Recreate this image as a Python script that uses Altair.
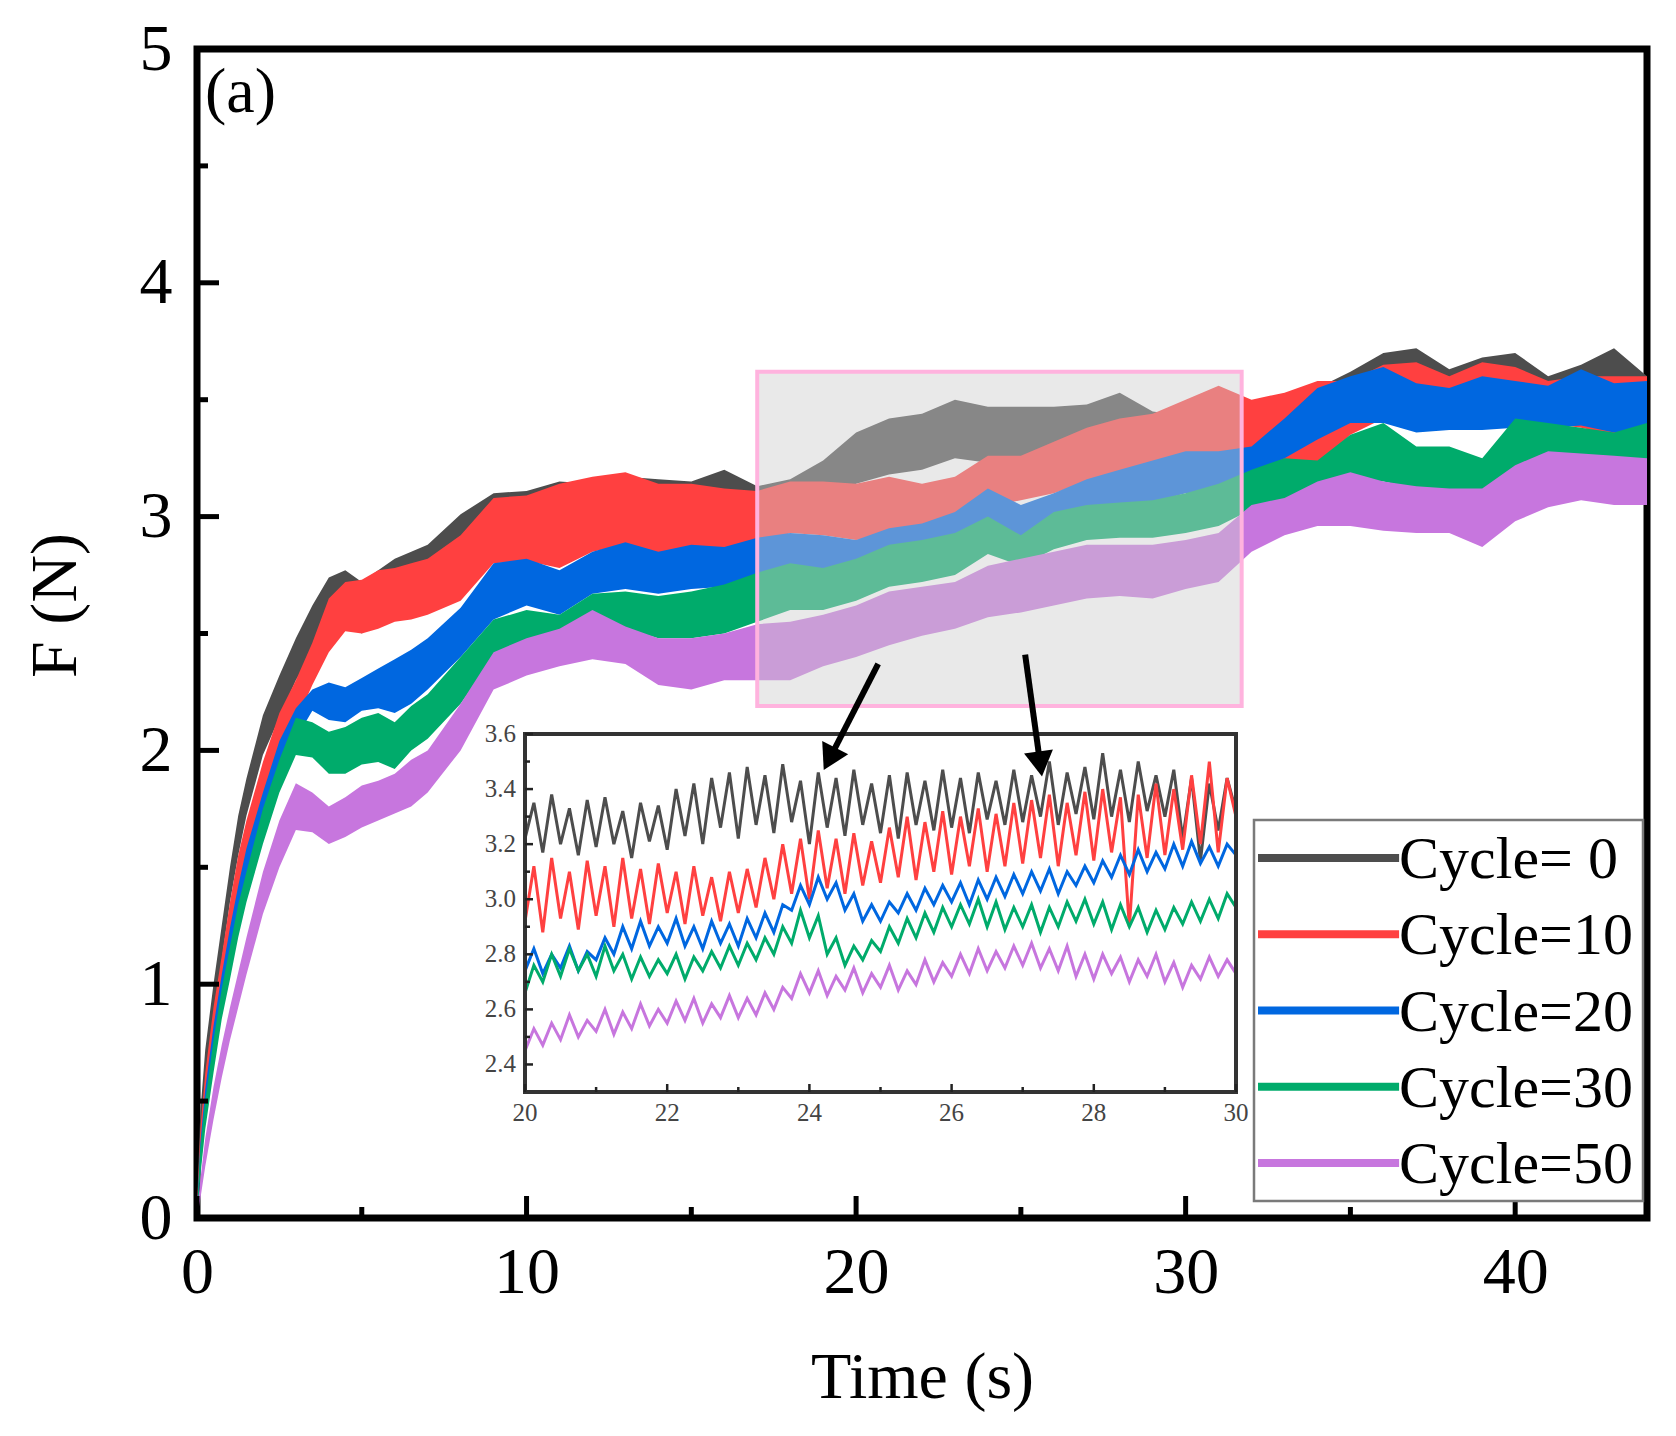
import altair as alt
import pandas as pd

FONT = "Liberation Serif"

SERIES = ["Cycle= 0", "Cycle=10", "Cycle=20", "Cycle=30", "Cycle=50"]
COLORS = ["#4d4d4d", "#ff4040", "#0067e0", "#00ab6b", "#c776de"]

# ---------------- main plot: band (lower / upper envelope) of each noisy record
T_MAIN = [0, 0.1, 0.25, 0.5, 0.75, 1, 1.25, 1.5, 2, 2.5, 3, 3.5, 4, 4.5, 5, 5.5, 6, 6.5,
          7, 8, 9, 10, 11, 12, 13, 14, 15, 16, 17, 18, 19, 20, 21, 22, 23, 24, 25, 26,
          27, 28, 29, 30, 31, 32, 33, 34, 35, 36, 37, 38, 39, 40, 41, 42, 43, 44]

BLACK_LO = [0, 0.3, 0.55, 0.85, 1.1, 1.35, 1.55, 1.72, 1.98, 2.14, 2.3, 2.42, 2.52, 2.55, 2.5, 2.55, 2.6, 2.62,
            2.66, 2.78, 2.88, 2.9, 2.93, 2.92, 2.95, 2.94, 2.93, 2.97, 2.92, 2.95, 3.02, 3.14, 3.18, 3.2, 3.25, 3.23, 3.24, 3.24,
            3.25, 3.28, 3.22, 3.2, 3.2, 3.24, 3.28, 3.33, 3.4, 3.48, 3.5, 3.42, 3.46, 3.48, 3.38, 3.43, 3.5, 3.38]
BLACK_HI = [0.05, 0.45, 0.72, 1.0, 1.25, 1.5, 1.72, 1.88, 2.15, 2.32, 2.48, 2.62, 2.74, 2.77, 2.72, 2.77, 2.82, 2.85,
            2.88, 3.01, 3.1, 3.11, 3.15, 3.14, 3.17, 3.16, 3.15, 3.2, 3.13, 3.16, 3.24, 3.36, 3.42, 3.44, 3.5, 3.47, 3.47, 3.47,
            3.48, 3.53, 3.45, 3.43, 3.44, 3.45, 3.5, 3.55, 3.62, 3.7, 3.72, 3.63, 3.68, 3.7, 3.6, 3.65, 3.72, 3.6]

RED_LO = [0, 0.25, 0.48, 0.75, 1.0, 1.2, 1.38, 1.52, 1.78, 1.98, 2.12, 2.28, 2.42, 2.51, 2.5, 2.52, 2.55, 2.56,
          2.58, 2.64, 2.8, 2.81, 2.78, 2.85, 2.88, 2.84, 2.86, 2.87, 2.87, 2.93, 2.92, 2.9, 2.92, 2.9, 2.95, 3.04, 3.07, 3.1,
          3.15, 3.18, 3.2, 3.22, 3.24, 3.25, 3.22, 3.22, 3.35, 3.42, 3.38, 3.38, 3.4, 3.38, 3.4, 3.38, 3.35, 3.38]
RED_HI = [0.03, 0.38, 0.62, 0.9, 1.12, 1.35, 1.55, 1.7, 1.95, 2.16, 2.3, 2.46, 2.65, 2.72, 2.73, 2.77, 2.78, 2.8,
          2.82, 2.92, 3.08, 3.09, 3.14, 3.17, 3.19, 3.14, 3.14, 3.12, 3.11, 3.15, 3.15, 3.14, 3.17, 3.14, 3.17, 3.26, 3.26, 3.32,
          3.38, 3.42, 3.44, 3.5, 3.56, 3.5, 3.53, 3.58, 3.58, 3.65, 3.66, 3.6, 3.66, 3.64, 3.58, 3.6, 3.6, 3.6]

BLUE_LO = [0, 0.2, 0.42, 0.68, 0.9, 1.1, 1.28, 1.42, 1.68, 1.9, 2.05, 2.17, 2.13, 2.12, 2.17, 2.18, 2.16, 2.2,
           2.26, 2.4, 2.56, 2.62, 2.58, 2.67, 2.69, 2.67, 2.69, 2.7, 2.73, 2.75, 2.77, 2.78, 2.8, 2.83, 2.88, 2.96, 2.9, 2.97,
           3.0, 3.03, 3.06, 3.1, 3.1, 3.18, 3.25, 3.33, 3.4, 3.4, 3.36, 3.37, 3.37, 3.38, 3.38, 3.39, 3.36, 3.38]
BLUE_HI = [0.02, 0.32, 0.55, 0.82, 1.04, 1.24, 1.42, 1.58, 1.82, 2.04, 2.18, 2.26, 2.29, 2.27, 2.31, 2.35, 2.39, 2.43,
           2.48, 2.61, 2.8, 2.82, 2.77, 2.85, 2.89, 2.85, 2.88, 2.87, 2.91, 2.93, 2.92, 2.9, 2.95, 2.97, 3.02, 3.12, 3.05, 3.1,
           3.16, 3.2, 3.24, 3.28, 3.28, 3.3, 3.42, 3.55, 3.6, 3.64, 3.57, 3.55, 3.6, 3.58, 3.56, 3.63, 3.57, 3.58]

GREEN_LO = [0, 0.18, 0.38, 0.62, 0.85, 1.02, 1.2, 1.35, 1.6, 1.82, 1.98, 1.97, 1.9, 1.9, 1.94, 1.95, 1.92, 2.0,
            2.05, 2.2, 2.4, 2.44, 2.47, 2.53, 2.52, 2.48, 2.48, 2.5, 2.55, 2.6, 2.6, 2.64, 2.7, 2.72, 2.75, 2.84, 2.79, 2.86,
            2.9, 2.91, 2.91, 2.93, 2.96, 3.03, 3.07, 3.1, 3.15, 3.15, 3.12, 3.1, 3.1, 3.2, 3.25, 3.25, 3.22, 3.21]
GREEN_HI = [0.02, 0.3, 0.5, 0.76, 0.98, 1.16, 1.34, 1.48, 1.75, 1.96, 2.14, 2.12, 2.08, 2.1, 2.14, 2.16, 2.12, 2.19,
            2.24, 2.4, 2.56, 2.6, 2.58, 2.67, 2.68, 2.66, 2.68, 2.71, 2.76, 2.8, 2.78, 2.82, 2.88, 2.9, 2.93, 3.0, 2.92, 3.02,
            3.05, 3.06, 3.07, 3.1, 3.14, 3.2, 3.25, 3.24, 3.35, 3.4, 3.3, 3.3, 3.25, 3.42, 3.4, 3.38, 3.36, 3.4]

PURPLE_LO = [0, 0.08, 0.22, 0.42, 0.6, 0.76, 0.9, 1.04, 1.3, 1.5, 1.66, 1.65, 1.6, 1.63, 1.67, 1.7, 1.73, 1.76,
             1.82, 2.0, 2.26, 2.32, 2.36, 2.39, 2.37, 2.28, 2.26, 2.3, 2.3, 2.3, 2.36, 2.4, 2.45, 2.49, 2.52, 2.57, 2.59, 2.62,
             2.65, 2.66, 2.65, 2.69, 2.72, 2.85, 2.92, 2.96, 2.96, 2.94, 2.93, 2.93, 2.87, 2.98, 3.04, 3.07, 3.05, 3.05]
PURPLE_HI = [0.02, 0.16, 0.34, 0.56, 0.74, 0.9, 1.05, 1.2, 1.48, 1.7, 1.86, 1.82, 1.76, 1.8, 1.85, 1.87, 1.9, 1.96,
             2.0, 2.2, 2.42, 2.48, 2.52, 2.6, 2.53, 2.48, 2.48, 2.5, 2.54, 2.55, 2.58, 2.62, 2.68, 2.7, 2.72, 2.79, 2.82, 2.85,
             2.88, 2.88, 2.88, 2.9, 2.93, 3.05, 3.08, 3.15, 3.19, 3.15, 3.13, 3.12, 3.12, 3.22, 3.28, 3.27, 3.26, 3.25]

# ---------------- inset (20 s - 30 s), sampled every 0.125 s
INSET_T = [round(20 + 0.125 * i, 3) for i in range(81)]
INSET_BLACK = [3.22, 3.35, 3.17, 3.38, 3.2, 3.33, 3.16, 3.36,
               3.19, 3.37, 3.2, 3.32, 3.15, 3.35, 3.21, 3.34,
               3.18, 3.40, 3.23, 3.42, 3.2, 3.44, 3.26, 3.46,
               3.22, 3.48, 3.27, 3.45, 3.24, 3.49, 3.28, 3.43,
               3.2, 3.46, 3.26, 3.44, 3.23, 3.47, 3.27, 3.42,
               3.24, 3.45, 3.22, 3.46, 3.27, 3.43, 3.25, 3.47,
               3.26, 3.44, 3.24, 3.46, 3.29, 3.43, 3.27, 3.47,
               3.28, 3.45, 3.3, 3.5, 3.27, 3.46, 3.31, 3.48,
               3.29, 3.53, 3.3, 3.47, 3.28, 3.5, 3.32, 3.45,
               3.3, 3.47, 3.22, 3.44, 3.14, 3.42, 3.25, 3.44,
               3.32]
INSET_RED = [2.92, 3.12, 2.88, 3.15, 2.93, 3.1, 2.89, 3.14,
             2.94, 3.12, 2.9, 3.15, 2.93, 3.11, 2.91, 3.13,
             2.95, 3.1, 2.91, 3.12, 2.94, 3.08, 2.92, 3.1,
             2.95, 3.11, 2.97, 3.15, 3.0, 3.2, 3.02, 3.22,
             3.0, 3.25, 3.04, 3.22, 3.02, 3.24, 3.05, 3.21,
             3.06, 3.26, 3.08, 3.3, 3.07, 3.28, 3.1, 3.32,
             3.09, 3.3, 3.12, 3.33, 3.1, 3.31, 3.12, 3.35,
             3.13, 3.36, 3.15, 3.38, 3.12, 3.35, 3.16, 3.39,
             3.14, 3.4, 3.17, 3.37, 2.9, 3.38, 3.15, 3.42,
             3.16, 3.4, 3.18, 3.45, 3.2, 3.5, 3.17, 3.44,
             3.3]
INSET_BLUE = [2.74, 2.82, 2.73, 2.8, 2.75, 2.83, 2.74, 2.81,
              2.78, 2.86, 2.8, 2.9, 2.82, 2.92, 2.83, 2.9,
              2.84, 2.93, 2.83, 2.9, 2.82, 2.92, 2.84, 2.91,
              2.83, 2.93, 2.86, 2.95, 2.88, 2.98, 2.96, 3.05,
              2.98, 3.08, 3.0, 3.06, 2.96, 3.02, 2.92, 2.98,
              2.92, 2.99, 2.95, 3.02, 2.96, 3.04, 2.98, 3.05,
              2.99, 3.06, 2.98, 3.07, 3.0, 3.08, 3.01, 3.09,
              3.02, 3.1, 3.03, 3.11, 3.02, 3.1, 3.05, 3.12,
              3.06, 3.14, 3.08, 3.16, 3.09, 3.18, 3.1, 3.17,
              3.11, 3.2, 3.12, 3.21, 3.13, 3.19, 3.12, 3.2,
              3.16]
INSET_GREEN = [2.66, 2.76, 2.7, 2.8, 2.72, 2.82, 2.74, 2.8,
               2.72, 2.83, 2.74, 2.8, 2.71, 2.79, 2.72, 2.78,
               2.73, 2.8, 2.71, 2.79, 2.74, 2.81, 2.75, 2.83,
               2.76, 2.84, 2.78, 2.86, 2.8, 2.9, 2.84, 2.96,
               2.86, 2.94, 2.8, 2.86, 2.76, 2.83, 2.78, 2.85,
               2.81, 2.9, 2.84, 2.93, 2.86, 2.95, 2.88, 2.97,
               2.9, 2.98, 2.91, 3.0, 2.9, 2.99, 2.89, 2.97,
               2.9, 2.98, 2.88, 2.97, 2.9, 2.99, 2.92, 3.0,
               2.91, 2.99, 2.89, 2.98, 2.9, 2.97, 2.88, 2.96,
               2.89, 2.97, 2.91, 2.99, 2.92, 3.0, 2.93, 3.02,
               2.97]
INSET_PURPLE = [2.45, 2.53, 2.47, 2.55, 2.49, 2.58, 2.5, 2.56,
                2.52, 2.6, 2.51, 2.59, 2.53, 2.62, 2.54, 2.6,
                2.55, 2.63, 2.56, 2.64, 2.55, 2.62, 2.57, 2.65,
                2.57, 2.64, 2.58, 2.66, 2.6, 2.68, 2.64, 2.73,
                2.66, 2.74, 2.65, 2.72, 2.67, 2.75, 2.66, 2.73,
                2.68, 2.76, 2.67, 2.74, 2.69, 2.78, 2.7, 2.77,
                2.72, 2.8, 2.73, 2.82, 2.74, 2.81, 2.75, 2.83,
                2.76, 2.84, 2.75, 2.82, 2.74, 2.83, 2.72, 2.8,
                2.71, 2.8, 2.73, 2.79, 2.7, 2.78, 2.72, 2.8,
                2.7, 2.77, 2.68, 2.76, 2.71, 2.79, 2.72, 2.78,
                2.73]

# ---------------- ticks / labels
X_MAJOR = [0, 10, 20, 30, 40]
X_MINOR = [5, 15, 25, 35]
Y_MAJOR = [0, 1, 2, 3, 4, 5]
Y_MINOR = [0.5, 1.5, 2.5, 3.5, 4.5]
INSET_X_MAJOR = [20, 22, 24, 26, 28, 30]
INSET_X_MINOR = [21, 23, 25, 27, 29]
INSET_Y_MAJOR = [2.4, 2.6, 2.8, 3.0, 3.2, 3.4, 3.6]
INSET_Y_MINOR = [2.5, 2.7, 2.9, 3.1, 3.3, 3.5]
INSET_X_LABELS = ["20", "22", "24", "26", "28", "30"]
INSET_Y_LABELS = ["2.4", "2.6", "2.8", "3.0", "3.2", "3.4", "3.6"]

# ---------------- geometry (pixels inside the plot area)
W, H = 1450, 1169
X_DOM, Y_DOM = [0, 44], [0, 5]
IX_DOM, IY_DOM = [20, 30], [2.3, 3.6]
IX_RANGE, IY_RANGE = [328, 1039], [1043, 685]
LX_RANGE, LY_RANGE = [1057, 1446], [771, 1152]
PXX = W / (X_DOM[1] - X_DOM[0])
PXY = H / (Y_DOM[1] - Y_DOM[0])
IPXX = (IX_RANGE[1] - IX_RANGE[0]) / (IX_DOM[1] - IX_DOM[0])
IPXY = (IY_RANGE[0] - IY_RANGE[1]) / (IY_DOM[1] - IY_DOM[0])

# zoom box & arrows (annotation, data units)
BOX = dict(x=17.0, x2=31.7, y=2.19, y2=3.62)
ARROWS = pd.DataFrame({"x": [20.67, 25.13], "y": [2.37, 2.41],
                       "x2": [19.25, 25.57], "y2": [1.98, 1.96], "ang": [207, 172]})

main_rows = []
for name, lo, hi in zip(SERIES, [BLACK_LO, RED_LO, BLUE_LO, GREEN_LO, PURPLE_LO],
                        [BLACK_HI, RED_HI, BLUE_HI, GREEN_HI, PURPLE_HI]):
    for t, a, b in zip(T_MAIN, lo, hi):
        main_rows.append({"t": t, "lo": a, "hi": b, "series": name})
main_df = pd.DataFrame(main_rows)

inset_rows = []
for name, vals in zip(SERIES, [INSET_BLACK, INSET_RED, INSET_BLUE, INSET_GREEN, INSET_PURPLE]):
    for t, v in zip(INSET_T, vals):
        inset_rows.append({"t": t, "F": v, "series": name})
inset_df = pd.DataFrame(inset_rows)


def xs():
    return alt.Scale(domain=X_DOM, nice=False, zero=False)


def ys():
    return alt.Scale(domain=Y_DOM, nice=False, zero=False)


def xi():
    return alt.Scale(domain=IX_DOM, range=IX_RANGE, nice=False, zero=False)


def yi():
    return alt.Scale(domain=IY_DOM, range=IY_RANGE, nice=False, zero=False)


def lx():
    return alt.Scale(domain=[0, 1], range=LX_RANGE, nice=False, zero=False)


def ly():
    return alt.Scale(domain=[-0.5, 4.5], range=LY_RANGE, nice=False, zero=False)


COLOR_SCALE = alt.Scale(domain=SERIES, range=COLORS)

area = alt.Chart(main_df).mark_area(opacity=1).encode(
    x=alt.X("t:Q", scale=xs(), axis=alt.Axis(
        values=X_MAJOR, format="d", ticks=False, domain=False, grid=False,
        labelFont=FONT, labelFontSize=66, labelColor="black", labelPadding=22,
        labelFlush=False, labelOverlap=False,
        title="Time (s)", titleFont=FONT, titleFontSize=66, titleFontWeight="normal",
        titleColor="black", titlePadding=40)),
    y=alt.Y("lo:Q", scale=ys(), axis=alt.Axis(
        values=Y_MAJOR, format="d", ticks=False, domain=False, grid=False,
        labelFont=FONT, labelFontSize=66, labelColor="black", labelPadding=25,
        labelOverlap=False,
        title="F (N)", titleFont=FONT, titleFontSize=66, titleFontWeight="normal",
        titleColor="black", titlePadding=50, titleY=556)),
    y2="hi:Q",
    fill=alt.Fill("series:N", scale=COLOR_SCALE, legend=None),
)

box = alt.Chart(pd.DataFrame([BOX])).mark_rect(
    fill="#cfcfcf", fillOpacity=0.45, stroke="#ffb3de", strokeWidth=4, strokeOpacity=1
).encode(
    x=alt.X("x:Q", scale=xs(), axis=None), x2="x2:Q",
    y=alt.Y("y:Q", scale=ys(), axis=None), y2="y2:Q",
)

MAJ, MIN = 22, 11
xt_df = pd.DataFrame({"v": X_MAJOR + X_MINOR, "y0": 0.0,
                      "y1": [MAJ / PXY] * len(X_MAJOR) + [MIN / PXY] * len(X_MINOR)})
yt_df = pd.DataFrame({"v": Y_MAJOR + Y_MINOR, "x0": 0.0,
                      "x1": [MAJ / PXX] * len(Y_MAJOR) + [MIN / PXX] * len(Y_MINOR)})
xticks = alt.Chart(xt_df).mark_rule(color="black", strokeWidth=5).encode(
    x=alt.X("v:Q", scale=xs(), axis=None),
    y=alt.Y("y0:Q", scale=ys(), axis=None), y2="y1:Q")
yticks = alt.Chart(yt_df).mark_rule(color="black", strokeWidth=5).encode(
    y=alt.Y("v:Q", scale=ys(), axis=None),
    x=alt.X("x0:Q", scale=xs(), axis=None), x2="x1:Q")

panel_label = alt.Chart(pd.DataFrame({"x": [0.24], "y": [4.73], "txt": ["(a)"]})).mark_text(
    font=FONT, fontSize=64, align="left", baseline="alphabetic", color="black"
).encode(x=alt.X("x:Q", scale=xs(), axis=None), y=alt.Y("y:Q", scale=ys(), axis=None), text="txt:N")

# ---------------- inset
frame_df = pd.DataFrame([{"x": IX_DOM[0], "x2": IX_DOM[1], "y": IY_DOM[0], "y2": IY_DOM[1]}])
inset_bg = alt.Chart(frame_df).mark_rect(fill="white", strokeWidth=0).encode(
    x=alt.X("x:Q", scale=xi(), axis=None), x2="x2:Q",
    y=alt.Y("y:Q", scale=yi(), axis=None), y2="y2:Q")
inset_frame = alt.Chart(frame_df).mark_rect(fillOpacity=0, stroke="#333333", strokeWidth=4).encode(
    x=alt.X("x:Q", scale=xi(), axis=None), x2="x2:Q",
    y=alt.Y("y:Q", scale=yi(), axis=None), y2="y2:Q")

inset_lines = alt.Chart(inset_df).mark_line(strokeWidth=3).encode(
    x=alt.X("t:Q", scale=xi(), axis=None),
    y=alt.Y("F:Q", scale=yi(), axis=None),
    stroke=alt.Stroke("series:N", scale=COLOR_SCALE, legend=None),
)

IMAJ, IMIN = 8, 5
ixt_df = pd.DataFrame({"v": INSET_X_MAJOR + INSET_X_MINOR, "y0": IY_DOM[0],
                       "y1": [IY_DOM[0] + IMAJ / IPXY] * len(INSET_X_MAJOR)
                             + [IY_DOM[0] + IMIN / IPXY] * len(INSET_X_MINOR)})
iyt_df = pd.DataFrame({"v": INSET_Y_MAJOR + INSET_Y_MINOR, "x0": IX_DOM[0],
                       "x1": [IX_DOM[0] + IMAJ / IPXX] * len(INSET_Y_MAJOR)
                             + [IX_DOM[0] + IMIN / IPXX] * len(INSET_Y_MINOR)})
ixticks = alt.Chart(ixt_df).mark_rule(color="#222222", strokeWidth=2.5).encode(
    x=alt.X("v:Q", scale=xi(), axis=None),
    y=alt.Y("y0:Q", scale=yi(), axis=None), y2="y1:Q")
iyticks = alt.Chart(iyt_df).mark_rule(color="#222222", strokeWidth=2.5).encode(
    y=alt.Y("v:Q", scale=yi(), axis=None),
    x=alt.X("x0:Q", scale=xi(), axis=None), x2="x1:Q")

ixl_df = pd.DataFrame({"v": INSET_X_MAJOR, "y": IY_DOM[0], "txt": INSET_X_LABELS})
iyl_df = pd.DataFrame({"v": INSET_Y_MAJOR, "x": IX_DOM[0], "txt": INSET_Y_LABELS})
ixlabels = alt.Chart(ixl_df).mark_text(
    font=FONT, fontSize=25, color="#444444", align="center", baseline="top", dy=9
).encode(x=alt.X("v:Q", scale=xi(), axis=None), y=alt.Y("y:Q", scale=yi(), axis=None), text="txt:N")
iylabels = alt.Chart(iyl_df).mark_text(
    font=FONT, fontSize=25, color="#444444", align="right", baseline="middle", dx=-9
).encode(y=alt.Y("v:Q", scale=yi(), axis=None), x=alt.X("x:Q", scale=xi(), axis=None), text="txt:N")

# ---------------- arrows (drawn above the inset so the tips show)
arrow_lines = alt.Chart(ARROWS).mark_rule(color="black", strokeWidth=6).encode(
    x=alt.X("x:Q", scale=xs(), axis=None), x2="x2:Q",
    y=alt.Y("y:Q", scale=ys(), axis=None), y2="y2:Q",
)
arrow_heads = alt.Chart(ARROWS).mark_point(
    shape="triangle", filled=True, color="black", opacity=1, size=850
).encode(
    x=alt.X("x2:Q", scale=xs(), axis=None),
    y=alt.Y("y2:Q", scale=ys(), axis=None),
    angle=alt.Angle("ang:Q", scale=None),
)

# ---------------- legend (built from the series list)
leg_df = pd.DataFrame({"series": SERIES, "rank": list(range(len(SERIES))),
                       "x0": 0.0103, "x1": 0.373})
leg_box = alt.Chart(pd.DataFrame([{"x": 0, "x2": 1, "y": -0.5, "y2": 4.5}])).mark_rect(
    fill="white", stroke="#7a7a7a", strokeWidth=2.5
).encode(x=alt.X("x:Q", scale=lx(), axis=None), x2="x2:Q",
         y=alt.Y("y:Q", scale=ly(), axis=None), y2="y2:Q")
leg_lines = alt.Chart(leg_df).mark_rule(strokeWidth=8).encode(
    x=alt.X("x0:Q", scale=lx(), axis=None), x2="x1:Q",
    y=alt.Y("rank:Q", scale=ly(), axis=None),
    stroke=alt.Stroke("series:N", scale=COLOR_SCALE, legend=None),
)
leg_text = alt.Chart(leg_df).mark_text(
    font=FONT, fontSize=60, color="black", align="left", baseline="middle", dy=2
).encode(x=alt.X("x1:Q", scale=lx(), axis=None),
         y=alt.Y("rank:Q", scale=ly(), axis=None), text="series:N")

chart = alt.layer(
    area, box, xticks, yticks, panel_label,
    inset_bg, inset_lines, inset_frame, ixticks, iyticks, ixlabels, iylabels,
    arrow_lines, arrow_heads, leg_box, leg_lines, leg_text
).resolve_scale(
    x="independent", y="independent"
).properties(
    width=W, height=H,
    padding={"left": 189, "top": 41, "right": 20, "bottom": 210},
    autosize=alt.AutoSizeParams(type="none"),
).configure(
    font=FONT, background="white"
).configure_view(
    stroke="black", strokeWidth=7
)

chart.save("out.html", embed_options={"renderer": "svg", "actions": False})
